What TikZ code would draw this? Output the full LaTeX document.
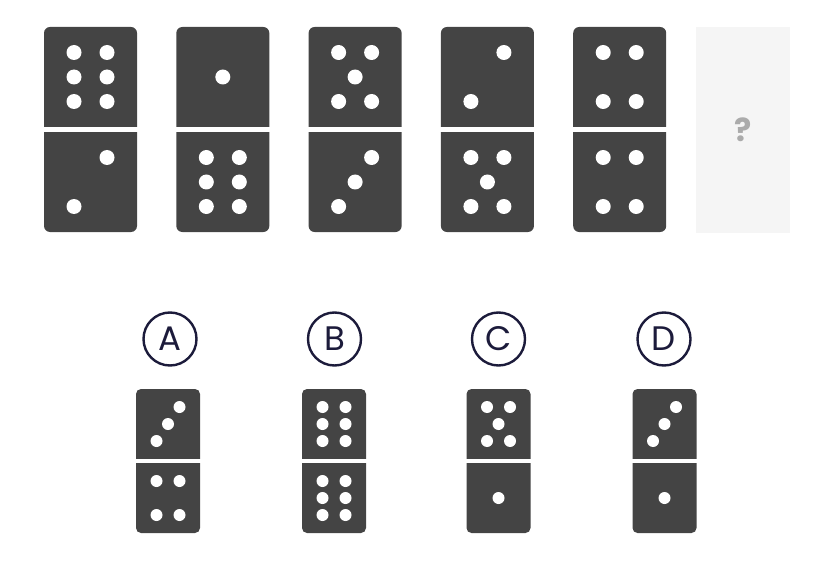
\documentclass[tikz,border=0pt]{standalone}
\usepackage{fontspec}
\newfontfamily\popfont{Poppins}
\definecolor{domc}{HTML}{444444}
\definecolor{boxc}{HTML}{F5F5F5}
\definecolor{qc}{HTML}{ABABAB}
\definecolor{navy}{HTML}{1C1B3B}
\tikzset{
  pipdot/.style={fill=white},
  optcircle/.style={circle, draw=navy, line width=2.4pt, minimum size=53pt, inner sep=0pt,
    font=\popfont\fontsize{34}{34}\selectfont, text=navy},
}
% #1 cx, #2 cy, #3 dx, #4 dy, #5 count
\newcommand\mypips[5]{%
  \ifcase#5\relax
  \or
    \fill[pipdot] (#1,#2) circle (\piprad);
  \or
    \fill[pipdot] (#1+#3,#2-#4) circle (\piprad) (#1-#3,#2+#4) circle (\piprad);
  \or
    \fill[pipdot] (#1+#3,#2-#4) circle (\piprad) (#1,#2) circle (\piprad) (#1-#3,#2+#4) circle (\piprad);
  \or
    \fill[pipdot] (#1+#3,#2-#4) circle (\piprad) (#1-#3,#2-#4) circle (\piprad)
                  (#1+#3,#2+#4) circle (\piprad) (#1-#3,#2+#4) circle (\piprad);
  \or
    \fill[pipdot] (#1+#3,#2-#4) circle (\piprad) (#1-#3,#2-#4) circle (\piprad)
                  (#1,#2) circle (\piprad)
                  (#1+#3,#2+#4) circle (\piprad) (#1-#3,#2+#4) circle (\piprad);
  \or
    \fill[pipdot] (#1+#3,#2-#4) circle (\piprad) (#1-#3,#2-#4) circle (\piprad)
                  (#1+#3,#2) circle (\piprad) (#1-#3,#2) circle (\piprad)
                  (#1+#3,#2+#4) circle (\piprad) (#1-#3,#2+#4) circle (\piprad);
  \fi}
% #1 cx, #2 top, #3 width, #4 half height, #5 gap, #6 dx, #7 dy, #8 top count, #9 bottom count
\newcommand\mydomino[9]{%
  \fill[domc, rounded corners=\cornrad] (#1-#3/2,#2) rectangle (#1+#3/2,#2+2*#4+#5);
  \fill[white] (#1-#3/2-1,#2+#4) rectangle (#1+#3/2+1,#2+#4+#5);
  \mypips{#1}{#2+#4/2}{#6}{#7}{#8}
  \mypips{#1}{#2+#4+#5+#4/2}{#6}{#7}{#9}}
\begin{document}
\begin{tikzpicture}[x=1pt,y=-1pt]
\useasboundingbox (0,0) rectangle (832,580);
% top row
\def\piprad{7.5pt}\def\cornrad{6pt}
\mydomino{90.5}{27}{93}{100}{5}{16.5}{24.5}{6}{2}
\mydomino{222.8}{27}{93}{100}{5}{16.5}{24.5}{1}{6}
\mydomino{355.1}{27}{93}{100}{5}{16.5}{24.5}{5}{3}
\mydomino{487.4}{27}{93}{100}{5}{16.5}{24.5}{2}{5}
\mydomino{619.7}{27}{93}{100}{5}{16.5}{24.5}{4}{4}
\node[fill=boxc, minimum width=94pt, minimum height=206pt, inner sep=0pt] (qbox) at (743,130) {};
\node[font=\popfont\bfseries\fontsize{32}{32}\selectfont, text=qc, inner sep=0pt] (qmark) at (qbox.center) {?};
% options
\node[optcircle] (optA) at (170,339) {A};
\node[optcircle] (optB) at (334.5,339) {B};
\node[optcircle] (optC) at (498.5,339) {C};
\node[optcircle] (optD) at (664,339) {D};
\def\piprad{6pt}\def\cornrad{5pt}
\mydomino{168}{389}{64}{70}{4}{11.5}{17}{3}{4}
\mydomino{334}{389}{64}{70}{4}{11.5}{17}{6}{6}
\mydomino{498.5}{389}{64}{70}{4}{11.5}{17}{5}{1}
\mydomino{664.5}{389}{64}{70}{4}{11.5}{17}{3}{1}
\end{tikzpicture}
\end{document}
